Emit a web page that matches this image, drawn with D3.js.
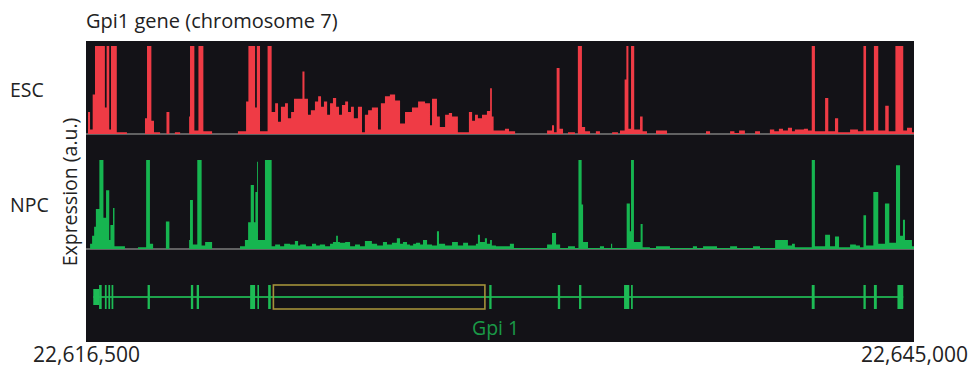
<!DOCTYPE html>
<html>
<head>
<meta charset="utf-8">
<script src="https://cdn.jsdelivr.net/npm/d3@7"></script>
<style>
  body { margin: 0; background: #fff; }
  text { font-family: "Open Sans", "Noto Sans", sans-serif; fill: #222; }
</style>
</head>
<body>
<div id="chart"></div>
<script>
// region shown (bp)
const regionStart = 22616500, regionEnd = 22645000;
const axisTicks = [regionStart, regionEnd];
const trackNames = ["ESC", "NPC"];

// step profiles: [offset from regionStart (bp), level (% of track max)]
const escSignal = [
  [0,0],[70,25],[140,5],[230,45],[310,100],[650,30],[710,100],[800,5],[860,100],[1060,2],[1410,0],
  [2030,18],[2100,100],[2250,15],[2340,2],[2550,0],[2770,25],[2870,0],[3060,2],[3240,0],
  [3550,20],[3580,100],[3730,4],[3870,100],[4040,3],[4340,0],
  [5230,3],[5510,37],[5590,100],[5820,30],[5880,100],[5990,3],[6250,100],
  [6390,25],[6510,35],[6610,14],[6710,31],[6850,35],[6950,18],[7060,25],[7160,40],[7450,71],[7520,40],
  [7640,22],[7740,27],[7880,37],[7990,43],[8090,31],[8190,37],[8300,22],[8400,35],[8500,41],[8610,31],
  [8710,22],[8810,33],[8920,37],[9020,25],[9120,31],[9220,18],[9360,31],[9500,2],[9600,22],[9710,27],
  [9840,30],[10050,5],[10150,35],[10290,43],[10460,45],[10640,38],[10810,12],[10980,25],[11220,30],
  [11430,37],[11670,35],[11840,10],[11910,40],[12080,20],[12180,8],[12360,22],[12490,24],[12600,20],
  [12800,2],[13180,25],[13290,15],[13390,22],[13490,18],[13630,22],[13800,26],[13910,52],[13970,20],
  [14030,4],[14420,6],[14560,3],[14770,0],
  [15870,4],[16040,10],[16110,2],[16200,75],[16300,6],[16420,0],[16590,2],[16830,0],
  [16930,100],[17070,8],[17180,3],[17350,0],[17550,3],[17690,0],[18110,2],[18310,0],
  [18380,4],[18540,62],[18600,100],[18670,6],[18760,100],[18870,5],[19070,20],[19160,3],[19310,0],
  [19620,4],[20000,0],[21340,3],[21480,0],[22170,3],[22320,1],[22480,4],[22680,0],[23030,3],[23200,0],
  [23540,5],[23690,3],[23850,6],[23990,4],[24160,7],[24300,3],[24400,5],[24710,6],[24850,4],
  [24980,100],[25090,3],[25440,41],[25550,3],[25780,18],[25890,2],
  [26300,5],[26570,3],[26760,100],[26850,4],[27120,100],[27270,4],[27510,32],[27630,3],
  [27860,100],[28130,4],[28260,7],[28430,2],[28500,0]
];

const npcSignal = [
  [0,0],[140,6],[210,15],[280,25],[340,45],[460,100],[600,35],[690,66],[800,10],[840,27],[930,46],[980,3],[1340,0],
  [1790,2],[2070,100],[2200,6],[2310,0],[2750,31],[2870,0],
  [3550,10],[3580,55],[3680,5],[3830,100],[3980,4],[4100,8],[4340,0],
  [5300,3],[5470,10],[5580,30],[5670,72],[5780,30],[5830,64],[5890,98],[5920,10],[6160,100],
  [6390,3],[6510,5],[6680,3],[6820,6],[7020,5],[7190,9],[7300,4],[7370,5],[7570,3],[7780,6],[7920,4],
  [8050,5],[8230,3],[8400,6],[8500,8],[8610,15],[8670,8],[8740,7],[8920,8],[9090,3],[9260,5],[9430,3],
  [9600,9],[9840,6],[10020,4],[10220,8],[10360,5],[10530,7],[10700,12],[10810,6],[10910,8],[11050,5],
  [11150,4],[11260,6],[11360,7],[11500,5],[11600,10],[11740,5],[11910,4],[12080,20],[12150,6],[12360,4],
  [12600,8],[12800,4],[12980,7],[13150,4],[13420,6],[13490,16],[13560,8],[13730,12],[13800,6],[13910,10],
  [13970,4],[14110,3],[14590,6],[14730,1],
  [15870,5],[16040,18],[16180,5],[16320,1],[16590,3],[16830,1],
  [16950,100],[17060,50],[17110,8],[17280,1],[17690,3],[17830,1],[18070,6],[18110,1],
  [18610,51],[18720,20],[18760,100],[18860,8],[19090,28],[19160,2],[19410,1],
  [19620,3],[20100,1],[20890,3],[21030,1],[21240,3],[21720,1],[22170,3],[22410,1],[22960,3],[23200,1],
  [23720,10],[24160,4],[24300,6],[24400,2],[24980,100],[25090,3],[25440,16],[25610,3],[25780,14],[25920,2],
  [26300,5],[26500,4],[26640,2],[26760,38],[26850,4],[27100,64],[27270,6],[27500,51],[27650,7],
  [27880,94],[28020,15],[28120,33],[28190,10],[28430,3],[28500,0]
];

// gene model: [start offset, end offset, kind]
const exons = [
  [250,450,"utr"],[450,540,"cds"],[650,710,"cds"],[770,830,"cds"],[880,940,"cds"],
  [2120,2200,"cds"],[3610,3690,"cds"],[3810,3890,"cds"],
  [5650,5820,"cds"],[5900,5940,"cds"],[6270,6360,"cds"],[13880,13960,"cds"],
  [16240,16320,"cds"],[16970,17050,"cds"],[18520,18700,"cds"],[18760,18820,"cds"],
  [24980,25080,"cds"],[26760,26840,"cds"],[27120,27220,"cds"],[27930,28130,"cds"]
];
const geneSpan = [250, 28130];
const boxedRegion = [6450, 13730];
const geneName = "Gpi 1";

const width = 970, height = 367;
const panel = { left: 86, right: 914, top: 41, bottom: 342 };
const tracks = [
  { name: trackNames[0], data: escSignal, color: "#ef3b45", top: 46, base: 134 },
  { name: trackNames[1], data: npcSignal, color: "#16b550", top: 160, base: 249 }
];
const geneY = 297;

const svg = d3.select("#chart").append("svg")
  .attr("width", width)
  .attr("height", height);

const x = d3.scaleLinear()
  .domain([regionStart, regionEnd])
  .range([panel.left, panel.right]);

// dark panel
svg.append("rect")
  .attr("x", panel.left).attr("y", panel.top)
  .attr("width", panel.right - panel.left)
  .attr("height", panel.bottom - panel.top)
  .attr("fill", "#131217");

tracks.forEach(t => {
  const y = d3.scaleLinear().domain([0, 100]).range([t.base, t.top]);

  // grey baseline
  svg.append("line")
    .attr("x1", panel.left).attr("x2", panel.right)
    .attr("y1", t.base).attr("y2", t.base)
    .attr("stroke", "#7d7d7d").attr("stroke-width", 1.5);

  const area = d3.area()
    .x(d => x(regionStart + d[0]))
    .y0(y(0))
    .y1(d => y(d[1]))
    .curve(d3.curveStepAfter);

  svg.append("path")
    .datum(t.data)
    .attr("d", area)
    .attr("fill", t.color);

  svg.append("text")
    .attr("x", 10)
    .attr("y", (t.top + t.base) / 2 + 7)
    .attr("font-size", 19.5)
    .text(t.name);
});

// gene model
svg.append("line")
  .attr("x1", x(regionStart + geneSpan[0])).attr("x2", x(regionStart + geneSpan[1]))
  .attr("y1", geneY).attr("y2", geneY)
  .attr("stroke", "#1ea34c").attr("stroke-width", 2);

svg.selectAll("rect.exon")
  .data(exons)
  .enter()
  .append("rect")
  .attr("class", "exon")
  .attr("x", d => x(regionStart + d[0]))
  .attr("width", d => Math.max(1.6, x(regionStart + d[1]) - x(regionStart + d[0])))
  .attr("y", d => d[2] === "utr" ? geneY - 8 : geneY - 12)
  .attr("height", d => d[2] === "utr" ? 16 : 24)
  .attr("fill", "#1dbb55");

svg.append("rect")
  .attr("x", x(regionStart + boxedRegion[0]))
  .attr("width", x(regionStart + boxedRegion[1]) - x(regionStart + boxedRegion[0]))
  .attr("y", geneY - 12).attr("height", 24)
  .attr("fill", "none")
  .attr("stroke", "#a4923a").attr("stroke-width", 1.6);

svg.append("text")
  .attr("x", 472).attr("y", 335)
  .attr("font-size", 19.5)
  .style("fill", "#1a9a47")
  .text(geneName);

// title
svg.append("text")
  .attr("x", 86).attr("y", 28)
  .attr("font-size", 20)
  .text("Gpi1 gene (chromosome 7)");

// y label
svg.append("text")
  .attr("transform", "translate(77,192) rotate(-90)")
  .attr("text-anchor", "middle")
  .attr("font-size", 19.5)
  .text("Expression (a.u.)");

// x axis: only region ends
const xAxis = svg.append("g")
  .attr("transform", `translate(0, ${panel.bottom})`)
  .call(d3.axisBottom(x).tickValues(axisTicks).tickFormat(d3.format(",")).tickSize(0).tickPadding(0));
xAxis.select(".domain").remove();
xAxis.selectAll("text")
  .attr("y", 20)
  .attr("dy", null)
  .attr("font-size", 21)
  .style("font-family", "'Open Sans', sans-serif")
  .attr("fill", "#222");
</script>
</body>
</html>
